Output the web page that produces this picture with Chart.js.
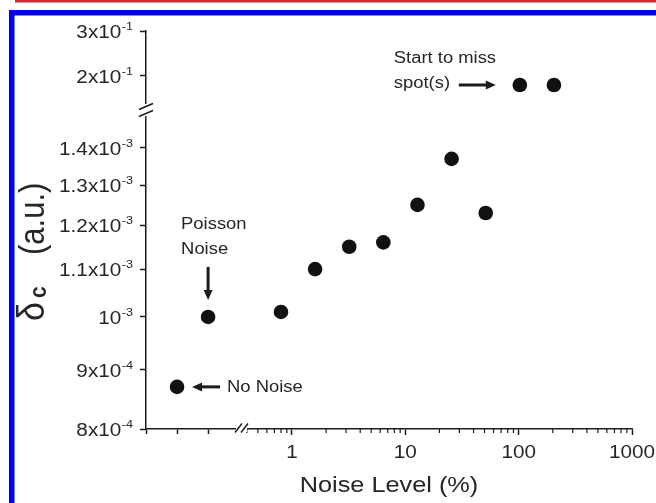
<!DOCTYPE html>
<html>
<head>
<meta charset="utf-8">
<title>delta_c vs noise level</title>
<script src="https://cdn.jsdelivr.net/npm/chart.js@4.4.1/dist/chart.umd.min.js"></script>
<style>
  html, body { margin: 0; padding: 0; background: #fff; }
  #myChart { display: block; }
</style>
</head>
<body>
<canvas id="myChart" width="656" height="503"></canvas>
<script>
// data
// left of the x break: runs without a noise level
const refNames = ['No Noise', 'Poisson Noise'];
const refSlot = [1, 2];
const refDelta = [8.70e-4, 1.0e-3];

// added noise, %
const noiseLevel = [0.8, 1.6, 3.2, 6.4, 12.8, 25.6, 51.2];
const noiseDelta = [1.01e-3, 1.10e-3, 1.15e-3, 1.16e-3, 1.25e-3, 1.37e-3, 1.23e-3];

// runs that start to miss spots (above the y break)
const missLevel = [102.4, 204.8];
const missDelta = [0.18, 0.18];

// ticks
const slotTicks = [0, 1, 2];
const levelTicks = [1, 10, 100, 1000];
const lowTicks = [8e-4, 9e-4, 1e-3, 1.1e-3, 1.2e-3, 1.3e-3, 1.4e-3];
const highTicks = [0.2, 0.3];

const ink = '#1c1c1c';
const txt = '#262626';
const FONT = '"Liberation Sans", Arial, sans-serif';
const SX = 1.15; // glyphs in the figure are a bit wide

const pts = (xs, ys) => xs.map((x, i) => ({ x, y: ys[i] }));
const setTicks = vals => s => { s.ticks = vals.map(v => ({ value: v })); };

function sci(v) {
  const e = Math.floor(Math.log10(v) + 1e-9);
  const m = Math.round(v / Math.pow(10, e) * 10) / 10;
  return [m === 1 ? '10' : m + 'x10', String(e)];
}

function write(ctx, s, x, y, size, align = 'left', bold = false) {
  ctx.save();
  ctx.translate(x, y);
  ctx.scale(SX, 1);
  ctx.font = (bold ? 'bold ' : '') + size + 'px ' + FONT;
  ctx.textAlign = align;
  ctx.textBaseline = 'alphabetic';
  ctx.fillStyle = txt;
  ctx.fillText(s, 0, 0);
  const w = ctx.measureText(s).width * SX;
  ctx.restore();
  return w;
}

function line(ctx, x1, y1, x2, y2, w) {
  ctx.lineWidth = w;
  ctx.beginPath();
  ctx.moveTo(x1, y1);
  ctx.lineTo(x2, y2);
  ctx.stroke();
}

function arrow(ctx, x1, y1, x2, y2) {
  const a = Math.atan2(y2 - y1, x2 - x1);
  const hl = 10, hw = 4.5;
  ctx.save();
  ctx.strokeStyle = ink;
  ctx.fillStyle = ink;
  line(ctx, x1, y1, x2 - Math.cos(a) * hl * 0.7, y2 - Math.sin(a) * hl * 0.7, 3);
  ctx.translate(x2, y2);
  ctx.rotate(a);
  ctx.beginPath();
  ctx.moveTo(0, 0);
  ctx.lineTo(-hl, -hw);
  ctx.lineTo(-hl, hw);
  ctx.closePath();
  ctx.fill();
  ctx.restore();
}

const decor = {
  id: 'decor',
  beforeDraw(chart) {
    const { ctx, width, height } = chart;
    ctx.save();
    ctx.fillStyle = '#fff';
    ctx.fillRect(0, 0, width, height);
    // page frame
    ctx.fillStyle = '#e2232b';
    ctx.fillRect(15, 0, width - 15, 2.5);
    ctx.fillStyle = '#0000ee';
    ctx.fillRect(9, 10, width - 9, 5.5);
    ctx.fillRect(9, 10, 5.5, height - 10);
    ctx.restore();
  },
  afterDraw(chart) {
    const { ctx, chartArea: ca } = chart;
    const { x1, yLow, yHigh } = chart.scales;
    ctx.save();
    ctx.strokeStyle = ink;

    // minor ticks on the log x axis
    for (let d = -1; d < 3; d++) {
      for (let k = 2; k < 10; k++) {
        const v = k * Math.pow(10, d);
        if (v <= x1.min || v >= x1.max) continue;
        const px = x1.getPixelForValue(v);
        line(ctx, px, ca.bottom, px, ca.bottom + 4, 1.2);
      }
    }

    // axis breaks
    const yb = yLow.top;
    ctx.fillStyle = '#fff';
    ctx.fillRect(ca.left - 3, yb - 6, 6, 12);
    [-3.5, 3.5].forEach(d => line(ctx, ca.left - 7, yb + d + 3, ca.left + 7, yb + d - 3, 1.5));
    const xb = x1.left;
    ctx.fillRect(xb - 5, ca.bottom - 3, 11, 6);
    [-2.5, 3.5].forEach(d => line(ctx, xb + d - 3.5, ca.bottom + 3.5, xb + d + 3.5, ca.bottom - 5.5, 1.5));

    // y tick labels with exponents
    const yLabel = (scale, v) => {
      const y = scale.getPixelForValue(v);
      const [b, e] = sci(v);
      const xr = ca.left - 13;
      const we = write(ctx, e, xr, y - 1, 11, 'right');
      write(ctx, b, xr - we - 0.5, y + 7, 18, 'right');
    };
    highTicks.forEach(v => yLabel(yHigh, v));
    lowTicks.forEach(v => yLabel(yLow, v));

    // x tick labels
    levelTicks.forEach(v => write(ctx, String(v), x1.getPixelForValue(v), ca.bottom + 29, 18, 'center'));

    // axis titles
    write(ctx, 'Noise Level (%)', (ca.left + ca.right) / 2, ca.bottom + 63, 22, 'center');

    ctx.save();
    ctx.translate(44, 321);
    ctx.rotate(-Math.PI / 2);
    ctx.scale(1, SX);
    ctx.fillStyle = txt;
    ctx.textBaseline = 'alphabetic';
    ctx.font = '34px ' + FONT;
    ctx.fillText('δ', 0, 0);
    ctx.font = 'bold 21px ' + FONT;
    ctx.fillText('c', 23, 2);
    ctx.font = '31px ' + FONT;
    ctx.fillText('(a.u.)', 66, 0);
    ctx.restore();

    // notes
    const ref = chart.getDatasetMeta(0).data;
    const p0 = ref[0], p1 = ref[1];
    arrow(ctx, p0.x + 43, p0.y, p0.x + 15, p0.y);
    write(ctx, 'No Noise', p0.x + 50, p0.y + 5, 16);

    arrow(ctx, p1.x, p1.y - 50, p1.x, p1.y - 17);
    write(ctx, 'Poisson', p1.x - 27, p1.y - 88, 16);
    write(ctx, 'Noise', p1.x - 27, p1.y - 63, 16);

    const m0 = chart.getDatasetMeta(2).data[0];
    arrow(ctx, m0.x - 61, m0.y, m0.x - 24, m0.y);
    write(ctx, 'Start to miss', m0.x - 126, m0.y - 22, 16);
    write(ctx, 'spot(s)', m0.x - 126, m0.y + 3, 16);

    ctx.restore();
  }
};

const axisGrid = { drawOnChartArea: false, drawTicks: true, tickLength: 6, tickWidth: 1.5, tickColor: ink };
const axisBorder = { display: true, color: ink, width: 1.5 };
const fitX = s => { s.height = 74; s.paddingLeft = 0; s.paddingRight = 0; };
const fitY = s => { s.width = 146; s.paddingTop = 0; s.paddingBottom = 0; };

const dot = { backgroundColor: '#111', borderColor: '#111', borderWidth: 0, pointRadius: 7.3, pointHoverRadius: 7.3 };

new Chart(document.getElementById('myChart'), {
  type: 'scatter',
  data: {
    datasets: [
      { label: 'reference', data: pts(refSlot, refDelta), xAxisID: 'x0', yAxisID: 'yLow', ...dot },
      { label: 'noise', data: pts(noiseLevel, noiseDelta), xAxisID: 'x1', yAxisID: 'yLow', ...dot },
      { label: 'missed spots', data: pts(missLevel, missDelta), xAxisID: 'x1', yAxisID: 'yHigh', ...dot }
    ]
  },
  options: {
    responsive: false,
    animation: false,
    devicePixelRatio: 1,
    layout: { padding: { top: 31, right: 24, bottom: 0, left: 0 } },
    plugins: { legend: { display: false }, tooltip: { enabled: false }, colors: { enabled: false } },
    scales: {
      x0: {
        type: 'linear', position: 'bottom', stack: 'xs', stackWeight: 95, weight: 0,
        min: 0, max: 3.06,
        afterBuildTicks: setTicks(slotTicks), afterFit: fitX,
        grid: { ...axisGrid, tickLength: 5 }, border: axisBorder, ticks: { display: false }
      },
      x1: {
        type: 'logarithmic', position: 'bottom', stack: 'xs', stackWeight: 391, weight: 1,
        min: 0.355, max: 1000,
        afterBuildTicks: setTicks(levelTicks), afterFit: fitX,
        grid: axisGrid, border: axisBorder, ticks: { display: false }
      },
      yLow: {
        type: 'logarithmic', position: 'left', stack: 'ys', stackWeight: 319, weight: 0,
        min: 8e-4, max: 1.51e-3,
        afterBuildTicks: setTicks(lowTicks), afterFit: fitY,
        grid: axisGrid, border: axisBorder, ticks: { display: false }
      },
      yHigh: {
        type: 'linear', position: 'left', stack: 'ys', stackWeight: 79, weight: 1,
        min: 0.1244, max: 0.3,
        afterBuildTicks: setTicks(highTicks), afterFit: fitY,
        grid: axisGrid, border: axisBorder, ticks: { display: false }
      }
    }
  },
  plugins: [decor]
});
</script>
</body>
</html>
